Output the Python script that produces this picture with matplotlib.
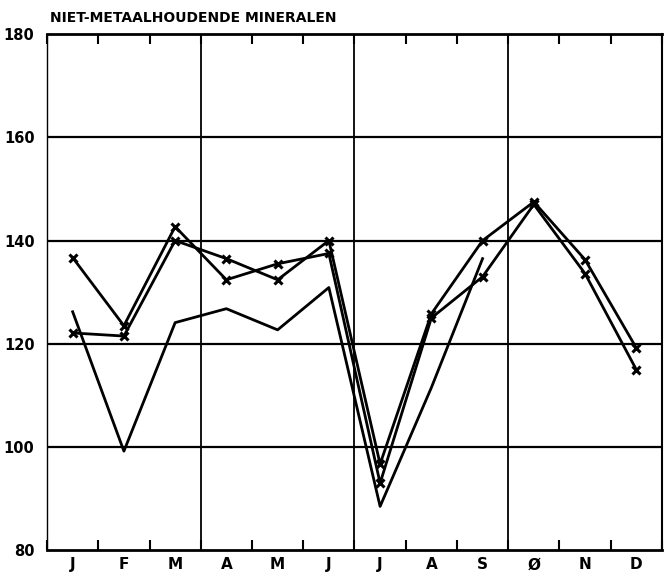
import numpy as np
import matplotlib
matplotlib.use("Agg")
import matplotlib.pyplot as plt

# maanden (Ø zoals op de plotter)
months = ["J", "F", "M", "A", "M", "J", "J", "A", "S", "Ø", "N", "D"]

# reeks zonder markers (stopt bij september)
plain = [126.2, 99.2, 124.1, 126.8, 122.7, 130.9, 88.5, 111.5, 136.5]
# twee reeksen met kruisjes
serie_a = [136.7, 123.5, 142.7, 132.4, 135.5, 137.5, 93.0, 125.0, 133.0, 147.0, 133.6, 115.0]
serie_b = [122.1, 121.5, 140.0, 136.5, 132.4, 140.0, 96.7, 125.8, 140.0, 147.5, 136.3, 119.2]

title = "NIET-METAALHOUDENDE MINERALEN"

fig = plt.figure(figsize=(6.72, 5.78), dpi=100)
ax = fig.add_axes([0.070, 0.048, 0.915, 0.893])

x_plain = np.arange(len(plain))
x_all = np.arange(len(months))

ax.plot(x_plain, plain, color="black", lw=2.0)
ax.plot(x_all, serie_a, color="black", lw=2.0, marker="x", ms=6, mew=2.2)
ax.plot(x_all, serie_b, color="black", lw=2.0, marker="x", ms=6, mew=2.2)

ax.set_xlim(-0.5, 11.5)
ax.set_ylim(80, 180)

# horizontale lijnen
for yv in [100, 120, 140, 160]:
    ax.axhline(yv, color="black", lw=1.6, zorder=1)
# kwartaalgrenzen
for xv in [2.5, 5.5, 8.5]:
    ax.axvline(xv, color="black", lw=1.3, zorder=1)

# tickjes op maandgrenzen
ax.set_xticks(np.arange(-0.5, 12, 1))
ax.set_xticklabels([])
ax.tick_params(axis="x", which="major", direction="in", length=7, width=1.5,
               top=True, bottom=True)
ax.set_xticks(x_all, minor=True)
ax.set_xticklabels(months, minor=True, fontsize=11, fontweight="bold")
ax.tick_params(axis="x", which="minor", length=0, pad=5)

ax.set_yticks([80, 100, 120, 140, 160, 180])
ax.set_yticklabels(["80", "100", "120", "140", "160", "180"], fontsize=10.5, fontweight="bold")
ax.tick_params(axis="y", length=0, pad=9)

ax.spines["left"].set_linewidth(1.0)
ax.spines["bottom"].set_linewidth(2.0)
ax.spines["top"].set_linewidth(2.0)
ax.spines["right"].set_linewidth(1.5)

fig.text(50 / 672, 1 - 18 / 578, title, fontsize=10, fontweight="bold",
         ha="left", va="center")

fig.savefig("out.png", dpi=100)
